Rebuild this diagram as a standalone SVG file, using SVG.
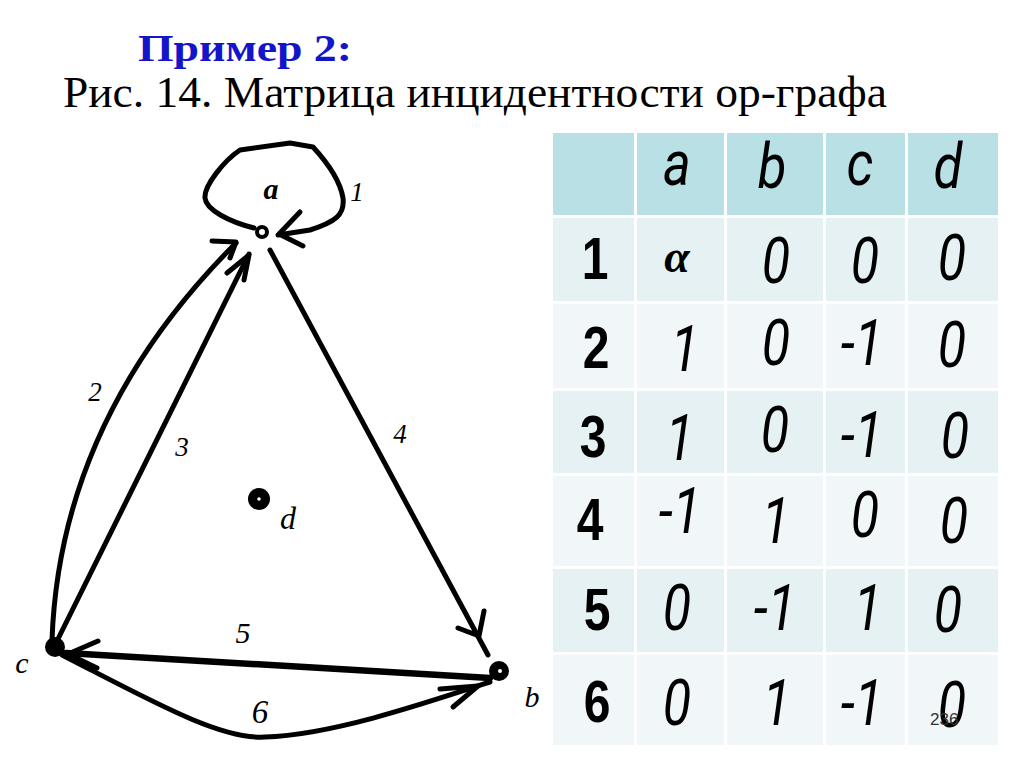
<svg xmlns="http://www.w3.org/2000/svg" width="1024" height="767" viewBox="0 0 1024 767">
<style>
.title{font-family:"Liberation Serif","Times New Roman",serif;font-weight:bold;fill:#1414C8;font-size:38px}
.sub{font-family:"Liberation Serif","Times New Roman",serif;fill:#000;font-size:44px}
.lbl{font-family:"Liberation Serif","Times New Roman",serif;font-style:italic;fill:#000;font-size:27px;text-anchor:middle}
.edge{fill:none;stroke:#000;stroke-width:5;stroke-linecap:round;stroke-linejoin:round}
.hd{fill:#B9E0E5}
.ra{fill:#E6F1F3}
.rb{fill:#F1F6F8}
.cell{font-family:Roboto,"Liberation Sans",Arial,sans-serif;font-style:italic;font-weight:400;font-size:65px;fill:#000;text-anchor:middle}
.rowh{font-family:"Liberation Sans",Arial,sans-serif;font-weight:bold;font-size:60px;fill:#000;text-anchor:middle}
.head{font-family:Roboto,"Liberation Sans",Arial,sans-serif;font-style:italic;font-weight:400;font-size:62px;fill:#000;text-anchor:middle}
</style>
<rect width="1024" height="767" fill="#fff"/>
<text class="title" x="138" y="61" textLength="214" lengthAdjust="spacingAndGlyphs">Пример 2:</text>
<text class="sub" x="63" y="107" textLength="824" lengthAdjust="spacingAndGlyphs">Рис. 14. Матрица инцидентности ор-графа</text>

<g id="connectors">
  <!-- edge 1: loop at a -->
  <path class="edge" d="M254,228 C230,222 206,210 205,198 C204,185 225,160 240,150 L290,143 L313,147 C325,160 340,180 343,198 C345,215 335,222 310,230 L278,235"/>
  <polyline class="edge" points="300,212 279,234 303,246"/>
  <!-- edge 2: c to a, curved -->
  <path class="edge" d="M52,640 Q60,419 236,243"/>
  <polyline class="edge" points="212,241 236,242 230,258"/>
  <!-- edge 3: c to a -->
  <path class="edge" d="M55,645 L249,254"/>
  <polyline class="edge" points="227,273 249,255 244,280"/>
  <!-- edge 4: a to b -->
  <path class="edge" d="M270,250 L488,655"/>
  <polyline class="edge" points="484,611 479,636 458,628"/>
  <!-- edge 5: b to c -->
  <path class="edge" d="M490,678 L66,653" style="stroke-width:6.5"/>
  <polyline class="edge" points="98,641 68,654 97,668"/>
  <!-- edge 6: c to b -->
  <path class="edge" d="M62,655 C150,700 220,740 265,737 C330,735 420,705 490,682"/>
  <polyline class="edge" points="440,689 478,686 453,707"/>
  <text class="lbl" x="357" y="201">1</text>
  <text class="lbl" x="95" y="401">2</text>
  <text class="lbl" x="182" y="456">3</text>
  <text class="lbl" x="400" y="443">4</text>
  <text class="lbl" x="243" y="643" style="font-size:30px">5</text>
  <text class="lbl" x="260" y="723" style="font-size:33px">6</text>
</g>

<g id="node-a">
  <circle cx="262" cy="232" r="5" fill="#fff" stroke="#000" stroke-width="4"/>
  <text class="lbl" x="271" y="199" style="font-size:30px;font-weight:bold">a</text>
</g>
<g id="node-b">
  <circle cx="499" cy="671" r="10" fill="#000"/>
  <circle cx="500" cy="671" r="2" fill="#fff"/>
  <text class="lbl" x="532" y="707" style="font-size:30px">b</text>
</g>
<g id="node-c">
  <circle cx="55" cy="647" r="10" fill="#000"/>
  <text class="lbl" x="22" y="673" style="font-size:30px">c</text>
</g>
<g id="node-d">
  <circle cx="259" cy="499" r="11" fill="#000"/>
  <circle cx="259" cy="499" r="1.8" fill="#fff"/>
  <text class="lbl" x="288" y="529" style="font-size:32px">d</text>
</g>

<g id="table">
  <rect class="hd" x="553" y="133" width="81" height="82"/>
  <rect class="hd" x="637" y="133" width="87" height="82"/>
  <rect class="hd" x="727" y="133" width="96" height="82"/>
  <rect class="hd" x="826" y="133" width="79" height="82"/>
  <rect class="hd" x="908" y="133" width="90" height="82"/>

  <rect class="ra" x="553" y="218" width="81" height="83"/>
  <rect class="ra" x="637" y="218" width="87" height="83"/>
  <rect class="ra" x="727" y="218" width="96" height="83"/>
  <rect class="ra" x="826" y="218" width="79" height="83"/>
  <rect class="ra" x="908" y="218" width="90" height="83"/>

  <rect class="rb" x="553" y="304" width="81" height="84"/>
  <rect class="rb" x="637" y="304" width="87" height="84"/>
  <rect class="rb" x="727" y="304" width="96" height="84"/>
  <rect class="rb" x="826" y="304" width="79" height="84"/>
  <rect class="rb" x="908" y="304" width="90" height="84"/>

  <rect class="ra" x="553" y="391" width="81" height="82"/>
  <rect class="ra" x="637" y="391" width="87" height="82"/>
  <rect class="ra" x="727" y="391" width="96" height="82"/>
  <rect class="ra" x="826" y="391" width="79" height="82"/>
  <rect class="ra" x="908" y="391" width="90" height="82"/>

  <rect class="rb" x="553" y="476" width="81" height="90"/>
  <rect class="rb" x="637" y="476" width="87" height="90"/>
  <rect class="rb" x="727" y="476" width="96" height="90"/>
  <rect class="rb" x="826" y="476" width="79" height="90"/>
  <rect class="rb" x="908" y="476" width="90" height="90"/>

  <rect class="ra" x="553" y="569" width="81" height="83"/>
  <rect class="ra" x="637" y="569" width="87" height="83"/>
  <rect class="ra" x="727" y="569" width="96" height="83"/>
  <rect class="ra" x="826" y="569" width="79" height="83"/>
  <rect class="ra" x="908" y="569" width="90" height="83"/>

  <rect class="rb" x="553" y="655" width="81" height="90"/>
  <rect class="rb" x="637" y="655" width="87" height="90"/>
  <rect class="rb" x="727" y="655" width="96" height="90"/>
  <rect class="rb" x="826" y="655" width="79" height="90"/>
  <rect class="rb" x="908" y="655" width="90" height="90"/>

  <!-- header -->
  <text class="head" transform="translate(677,185) scale(0.85,1)">a</text>
  <text class="head" transform="translate(772,188) scale(0.85,1)">b</text>
  <text class="head" transform="translate(860,185) scale(0.85,1)">c</text>
  <text class="head" transform="translate(948,188) scale(0.85,1)">d</text>

  <!-- row labels -->
  <text class="rowh" transform="translate(595,279) scale(0.8,1)">1</text>
  <text class="rowh" transform="translate(596,368) scale(0.8,1)">2</text>
  <text class="rowh" transform="translate(593,457) scale(0.8,1)">3</text>
  <text class="rowh" transform="translate(590,540) scale(0.8,1)">4</text>
  <text class="rowh" transform="translate(597,630) scale(0.8,1)">5</text>
  <text class="rowh" transform="translate(597,722) scale(0.8,1)">6</text>

  <!-- row 1 -->
  <text x="677" y="272" style="font-family:'Liberation Serif','Times New Roman',serif;font-style:italic;font-weight:bold;font-size:46px;text-anchor:middle">α</text>
  <text class="cell" transform="translate(776,283) scale(0.8,1)">0</text>
  <text class="cell" transform="translate(865,283) scale(0.8,1)">0</text>
  <text class="cell" transform="translate(952,280) scale(0.8,1)">0</text>
  <!-- row 2 -->
  <text class="cell" transform="translate(685,371) scale(0.8,1)">1</text>
  <text class="cell" transform="translate(776,365) scale(0.8,1)">0</text>
  <text class="cell" transform="translate(862,365) scale(0.8,1)">-1</text>
  <text class="cell" transform="translate(952,367) scale(0.8,1)">0</text>
  <!-- row 3 -->
  <text class="cell" transform="translate(680,460) scale(0.8,1)">1</text>
  <text class="cell" transform="translate(775,452) scale(0.8,1)">0</text>
  <text class="cell" transform="translate(862,457) scale(0.8,1)">-1</text>
  <text class="cell" transform="translate(955,458) scale(0.8,1)">0</text>
  <!-- row 4 -->
  <text class="cell" transform="translate(680,533) scale(0.8,1)">-1</text>
  <text class="cell" transform="translate(776,543) scale(0.8,1)">1</text>
  <text class="cell" transform="translate(865,537) scale(0.8,1)">0</text>
  <text class="cell" transform="translate(954,543) scale(0.8,1)">0</text>
  <!-- row 5 -->
  <text class="cell" transform="translate(677,630) scale(0.8,1)">0</text>
  <text class="cell" transform="translate(775,630) scale(0.8,1)">-1</text>
  <text class="cell" transform="translate(868,630) scale(0.8,1)">1</text>
  <text class="cell" transform="translate(948,632) scale(0.8,1)">0</text>
  <!-- row 6 -->
  <text class="cell" transform="translate(677,725) scale(0.8,1)">0</text>
  <text class="cell" transform="translate(777,725) scale(0.8,1)">1</text>
  <text class="cell" transform="translate(862,725) scale(0.8,1)">-1</text>
  <text class="cell" transform="translate(952,727) scale(0.8,1)">0</text>
</g>
<text x="930" y="725" style="font-family:'Liberation Sans',Arial,sans-serif;font-size:17px;fill:#333">236</text>
</svg>
